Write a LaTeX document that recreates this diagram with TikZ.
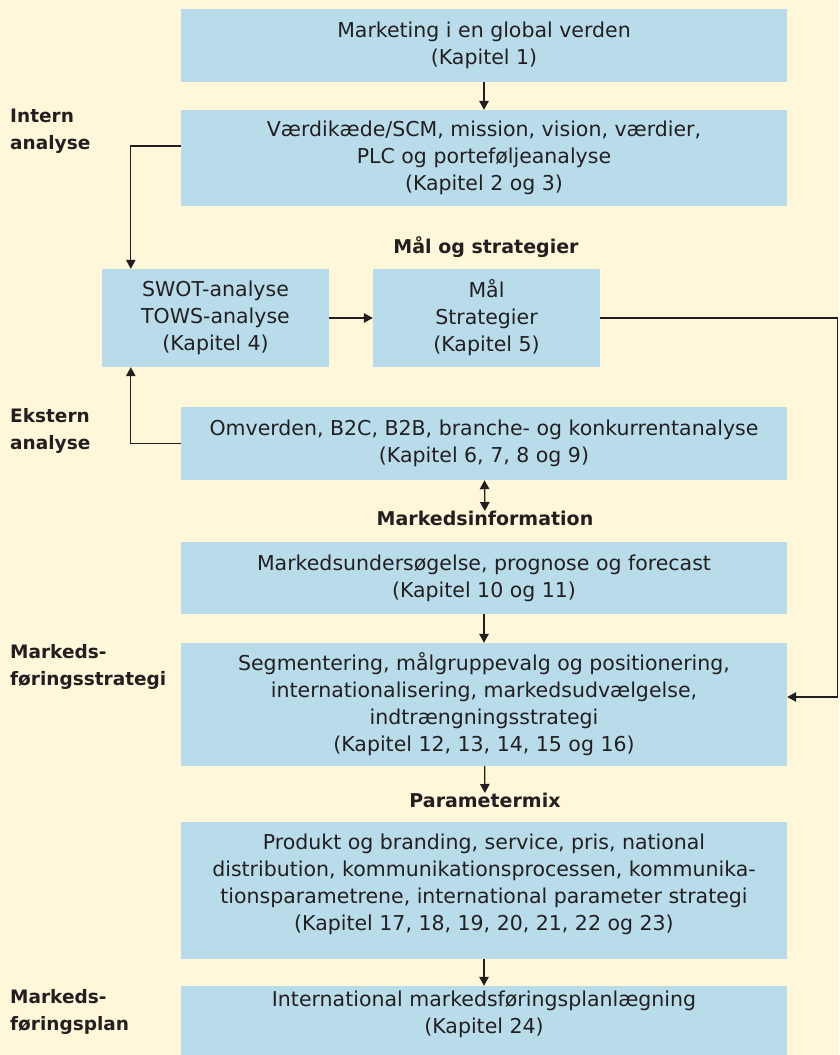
\documentclass[tikz,border=0pt]{standalone}
\usepackage{fontspec}
\setmainfont{DejaVu Sans}
\usetikzlibrary{arrows.meta}
\definecolor{creambg}{RGB}{254,247,217}
\definecolor{boxblue}{RGB}{185,220,235}
\definecolor{inktext}{RGB}{35,31,32}
\newcommand{\lift}[1]{\rule[-#1]{0pt}{#1}}

\begin{document}
\begin{tikzpicture}[x=1pt, y=-1pt, >={Triangle[length=9pt,width=9.5pt]}]
\tikzstyle{box} = [fill=boxblue, text=inktext, align=center, inner sep=0pt, minimum width=606pt, font=\fontsize{20.5}{27}\selectfont]
\tikzstyle{half} = [box, minimum width=227pt, minimum height=98pt]
\tikzstyle{lab} = [text=inktext, inner sep=0pt, font=\bfseries\fontsize{19}{27}\selectfont]
\tikzstyle{side} = [lab, align=left, anchor=west, font=\bfseries\fontsize{18.5}{27}\selectfont]
\tikzstyle{conn} = [draw=inktext, line width=1.3pt]

\fill[creambg] (0,0) rectangle (839,1055);
\useasboundingbox (0,0) rectangle (839,1055);

% side headings
\node[side] (intern) at (10,131.5) {Intern\\analyse};
\node[side] (ekstern) at (10,430.5) {Ekstern\\analyse};
\node[side] (strategi) at (10,666.5) {Markeds-\\føringsstrategi};
\node[side] (plan) at (10,1011.5) {Markeds-\\føringsplan};

% boxes
\node[box, minimum height=73pt] (global) at (484,45.5) {Marketing i en global verden\\(Kapitel 1)};
\node[box, minimum height=96pt] (vaerdi) at (484,158) {Værdikæde/SCM, mission, vision, værdier,\\PLC og porteføljeanalyse\\(Kapitel 2 og 3)};
\node[half] (swot) at (215.5,318) {SWOT-analyse\\TOWS-analyse\\(Kapitel 4)};
\node[half] (maal) at (486.5,318) {Mål\\Strategier\\(Kapitel 5)};
\node[box, minimum height=73pt] (omverden) at (484,443.5) {Omverden, B2C, B2B, branche- og konkurrentanalyse\\(Kapitel 6, 7, 8 og 9)};
\node[box, minimum height=72pt] (undersoeg) at (484,578) {Markedsundersøgelse, prognose og forecast\\(Kapitel 10 og 11)};
\node[box, minimum height=123pt] (segment) at (484,704.5) {Segmentering, målgruppevalg og positionering,\\internationalisering, markedsudvælgelse,\\indtrængningsstrategi\\(Kapitel 12, 13, 14, 15 og 16)};
\node[box, minimum height=137pt] (produkt) at (484,890.5) {Produkt og branding, service, pris, national\\distribution, kommunikationsprocessen, kommunika-\\tionsparametrene, international parameter strategi\\(Kapitel 17, 18, 19, 20, 21, 22 og 23)\lift{16pt}};
\node[box, minimum height=69pt] (mfplan) at (484,1020.5) {International markedsføringsplanlægning\\(Kapitel 24)\lift{16pt}};

% group headings
\node[lab] (maalhead) at (486,247) {Mål og strategier};
\node[lab, anchor=north] (markinfo) at (485,511) {Markedsinformation};
\node[lab, anchor=north] (paramix) at (485,793) {Parametermix};

\coordinate (rightturn) at (837.5,318);

% connectors
\draw[conn, ->] (global) -- (vaerdi);
\draw[conn, ->] ([yshift=12pt]vaerdi.west) -| ([xshift=29pt]swot.north west);
\draw[conn, ->] (swot) -- (maal);
\draw[conn, ->] (omverden.west) -| ([xshift=29pt]swot.south west);
\draw[conn, <->] (omverden) -- (markinfo);
\draw[conn, ->] (maal.east) -- (rightturn) |- ([yshift=7.5pt]segment.east);
\draw[conn, ->] (undersoeg) -- (segment);
\draw[conn, ->] (segment) -- (paramix);
\draw[conn, ->] (produkt) -- (mfplan);
\end{tikzpicture}
\end{document}
